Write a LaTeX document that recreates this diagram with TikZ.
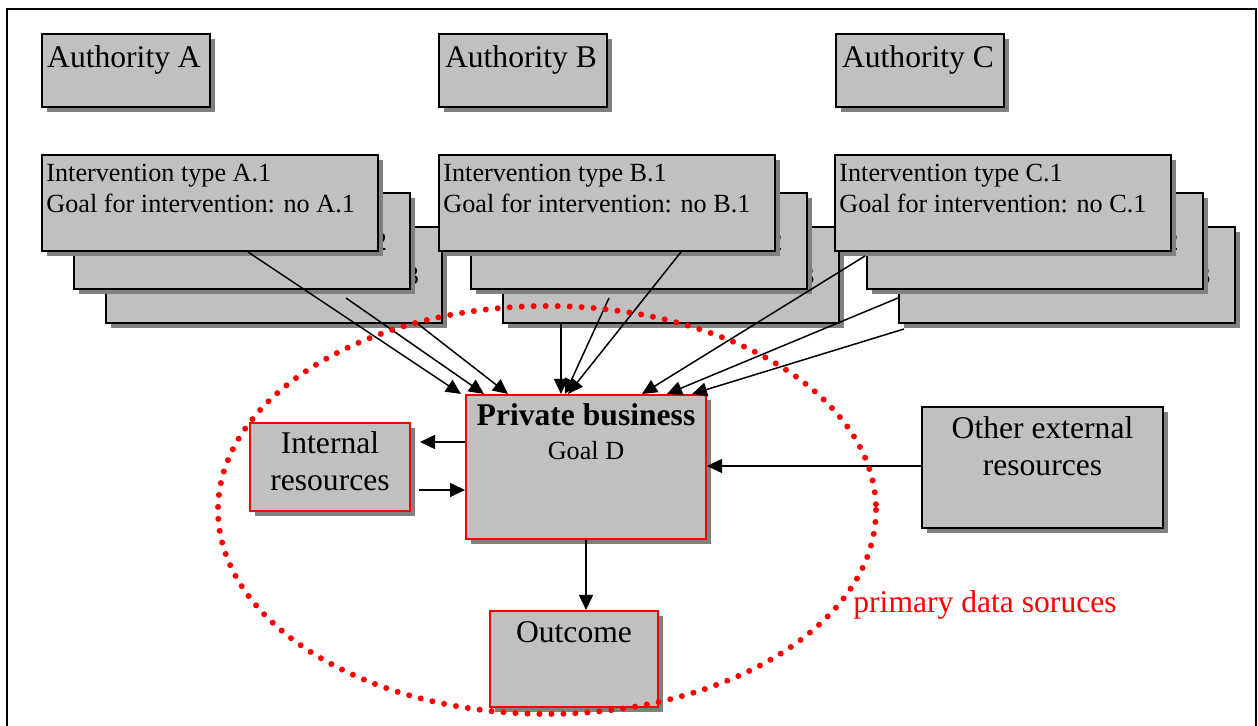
\documentclass[tikz,border=0pt]{standalone}
\usepackage{fontspec}
\setmainfont{Liberation Serif}
\usetikzlibrary{calc,shadows,arrows.meta}
\definecolor{boxfill}{HTML}{C0C0C0}
\definecolor{shadowgray}{HTML}{808080}
\begin{document}
\begin{tikzpicture}[x=0.5pt,y=-0.5pt,
  box/.style={draw=black, line width=1pt, fill=boxfill, anchor=north west, inner sep=0pt,
    general shadow={fill=shadowgray, shadow xshift=2.5pt, shadow yshift=-2.5pt}},
  redbox/.style={box, draw=red},
  big/.style={inner sep=0pt, font=\fontsize{15.8pt}{18pt}\selectfont},
  small/.style={inner sep=0pt, font=\fontsize{13.1pt}{15pt}\selectfont},
  arr/.style={line width=0.75pt, -{Triangle[length=7.5pt,width=7pt]}},
  conn/.style={line width=0.75pt}]
\useasboundingbox (0,0) rectangle (1258,726);
\begin{scope}
  \clip (0,0) rectangle (1258,726);
  \draw[line width=1pt] (7,9) rectangle (1256,800);
\end{scope}

% authorities
\node[box, minimum width=84pt, minimum height=36.5pt] (autha) at (41,33) {};
\node[big, anchor=base] (autha-t) at ($(autha.north)+(-2,35)$) {Authority A};
\node[box, minimum width=84pt, minimum height=36.5pt] (authb) at (438,33) {};
\node[big, anchor=base] (authb-t) at ($(authb.north)+(-2,35)$) {Authority B};
\node[box, minimum width=84pt, minimum height=36.5pt] (authc) at (835,33) {};
\node[big, anchor=base] (authc-t) at ($(authc.north)+(-2,35)$) {Authority C};

% intervention stacks
\foreach \L/\X in {A/41,B/438,C/834} {
  \foreach \k/\d/\yy in {3/64/226, 2/32/192, 1/0/154} {
    \node[box, minimum width=168pt, minimum height=48pt] (int\L\k) at (\X+\d,\yy) {};
    \node[small, anchor=base west] (int\L\k-a) at ($(int\L\k.north west)+(5,28)$) {Intervention type \L.\k};
    \node[small, anchor=base west] (int\L\k-b) at ($(int\L\k.north west)+(5,59)$) {Goal for intervention: no \L.\k};
  }
}

\draw[conn] ($(autha.south west)+(88,0)$) -- ($(autha.south west)+(88,0)$ |- intA1.north);
\draw[conn] ($(authb.south west)+(75,0)$) -- ($(authb.south west)+(75,0)$ |- intB1.north);
\draw[conn] ($(authc.south west)+(62,0)$) -- ($(authc.south west)+(62,0)$ |- intC1.north);

% central boxes
\node[redbox, minimum width=120pt, minimum height=72pt] (pb) at (465,394) {};
\node[big, anchor=base, font=\fontsize{15.8pt}{18pt}\selectfont\bfseries] (pb-t) at ($(pb.north)+(0,32)$) {Private business};
\node[small, anchor=base] (pb-g) at ($(pb.north)+(0,66)$) {Goal D};

\node[redbox, minimum width=80pt, minimum height=44pt] (ir) at (249,422) {};
\node[big, anchor=base] (ir-a) at ($(ir.north)+(0,32)$) {Internal};
\node[big, anchor=base] (ir-b) at ($(ir.north)+(0,69)$) {resources};

\node[box, minimum width=120.5pt, minimum height=60.5pt] (oer) at (921,406) {};
\node[big, anchor=base] (oer-a) at ($(oer.north)+(0,33)$) {Other external};
\node[big, anchor=base] (oer-b) at ($(oer.north)+(0,70)$) {resources};

\node[redbox, minimum width=84pt, minimum height=48pt] (out) at (489,610) {};
\node[big, anchor=base] (out-t) at ($(out.north)+(0,32)$) {Outcome};

% arrows from interventions
\draw[arr] ($(intA1.south west)+(207,0)$) -- ($(pb.north west)+(-4,0)$);
\draw[arr] ($(intA3.north west)+(241,72)$) -- ($(pb.north west)+(19,0)$);
\draw[arr] ($(intA3.south west)+(313,0)$) -- ($(pb.north west)+(43,0)$);
\draw[arr] ($(intB3.south west)+(59,0)$) -- ($(pb.north west)+(96,0)$);
\draw[arr] ($(intB3.north west)+(107,72)$) -- ($(pb.north west)+(100,0)$);
\draw[arr] ($(intB1.south west)+(243,0)$) -- ($(pb.north west)+(103,0)$);
\draw[arr] ($(intC2.north west)+(-1,64)$) -- ($(pb.north west)+(177,0)$);
\draw[arr] ($(intC3.north west)+(0,72)$) -- ($(pb.north west)+(202,0)$);
\draw[arr] ($(intC3.south west)+(6,5)$) -- ($(pb.north west)+(227,0)$);

% other arrows
\draw[arr] ($(pb.north west)+(0,48)$) -- ($(ir.north east)+(9,20)$);
\draw[arr] ($(ir.north east)+(8,68)$) -- ($(pb.north west)+(0,96)$);
\draw[arr] ($(oer.north west)+(0,60)$) -- ($(pb.north east)+(0,72)$);
\draw[arr] (pb.south) -- (pb.south |- out.north);

% primary data ellipse
\draw[red, line width=3pt, line cap=round, dash pattern=on 0pt off 6pt] (547,510) ellipse [x radius=329, y radius=204];
\node[big, text=red, anchor=base west] (lbl) at (853,612) {primary data soruces};
\end{tikzpicture}
\end{document}
